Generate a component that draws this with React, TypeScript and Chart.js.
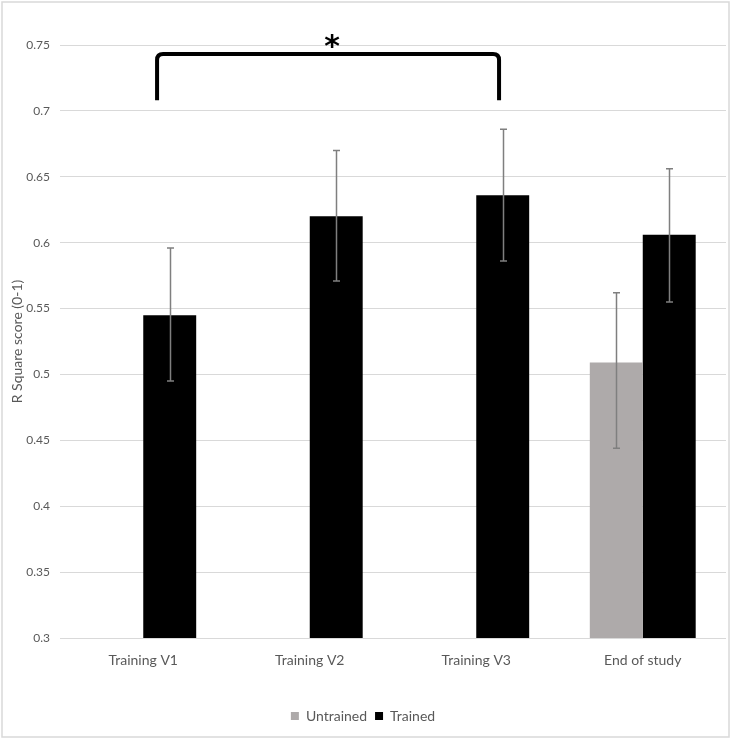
import React, { useEffect, useRef } from "react";
import { Chart, registerables } from "chart.js";

Chart.register(...registerables);

const categories = ["Training V1", "Training V2", "Training V3", "End of study"];
const seriesNames = ["Untrained", "Trained"];
const untrainedValues: (number | null)[] = [null, null, null, 0.509];
const untrainedUpper: (number | null)[] = [null, null, null, 0.562];
const untrainedLower: (number | null)[] = [null, null, null, 0.444];
const trainedValues: number[] = [0.545, 0.62, 0.636, 0.606];
const trainedUpper: number[] = [0.596, 0.67, 0.686, 0.656];
const trainedLower: number[] = [0.495, 0.571, 0.586, 0.555];
const yTickLabels: Record<string, string> = {
  "0.3": "0.3", "0.35": "0.35", "0.4": "0.4", "0.45": "0.45", "0.5": "0.5",
  "0.55": "0.55", "0.6": "0.6", "0.65": "0.65", "0.7": "0.7", "0.75": "0.75",
};
const yMin = 0.3;
const yMax = 0.75;
const yStep = 0.05;
const yTitle = "R Square score (0-1)";
// significance bracket between Training V1 and Training V3 (category index positions)
const bracketFrom = 0.083;
const bracketTo = 2.137;
const bracketTop = 0.7432;
const bracketBottom = 0.708;
const bracketLabel = "*";

const FONT = "Lato, 'Open Sans', sans-serif";
const TEXT = "#595959";

const errorBounds = [
  { upper: untrainedUpper, lower: untrainedLower },
  { upper: trainedUpper, lower: trainedLower },
];

const decorPlugin = {
  id: "decor",
  beforeDraw(chart: any) {
    const { ctx, width, height } = chart;
    ctx.save();
    ctx.fillStyle = "#ffffff";
    ctx.fillRect(0, 0, width, height);
    ctx.strokeStyle = "#d9d9d9";
    ctx.lineWidth = 1.5;
    ctx.strokeRect(2, 2, 727, 735);
    ctx.restore();
  },
  afterDatasetsDraw(chart: any) {
    const { ctx } = chart;
    const y = chart.scales.y;
    const x = chart.scales.x;
    ctx.save();
    ctx.strokeStyle = "#7f7f7f";
    ctx.lineWidth = 1.5;
    errorBounds.forEach((eb, di) => {
      const meta = chart.getDatasetMeta(di);
      meta.data.forEach((bar: any, i: number) => {
        const up = eb.upper[i];
        const lo = eb.lower[i];
        if (up == null || lo == null) return;
        const cx = Math.round(bar.x) + 0.5;
        const yu = y.getPixelForValue(up);
        const yl = y.getPixelForValue(lo);
        ctx.beginPath();
        ctx.moveTo(cx, yu);
        ctx.lineTo(cx, yl);
        ctx.moveTo(cx - 3.5, yu);
        ctx.lineTo(cx + 3.5, yu);
        ctx.moveTo(cx - 3.5, yl);
        ctx.lineTo(cx + 3.5, yl);
        ctx.stroke();
      });
    });
    // bracket
    const l = x.getPixelForValue(bracketFrom);
    const r = x.getPixelForValue(bracketTo);
    const t = y.getPixelForValue(bracketTop);
    const b = y.getPixelForValue(bracketBottom);
    const rad = 6;
    ctx.strokeStyle = "#000000";
    ctx.lineWidth = 4;
    ctx.lineJoin = "round";
    ctx.beginPath();
    ctx.moveTo(l, b);
    ctx.lineTo(l, t + rad);
    ctx.quadraticCurveTo(l, t, l + rad, t);
    ctx.lineTo(r - rad, t);
    ctx.quadraticCurveTo(r, t, r, t + rad);
    ctx.lineTo(r, b);
    ctx.stroke();
    ctx.fillStyle = "#000000";
    ctx.font = "bold 30px 'DejaVu Sans', sans-serif";
    ctx.textAlign = "center";
    ctx.textBaseline = "alphabetic";
    ctx.fillText(bracketLabel, (l + r) / 2 + 4, t + 2);
    ctx.restore();
  },
};

export default function App() {
  const ref = useRef<HTMLCanvasElement | null>(null);
  useEffect(() => {
    document.body.style.margin = "0";
    const canvas = ref.current!;
    const chart = new Chart(canvas, {
      type: "bar",
      data: {
        labels: categories,
        datasets: [
          {
            label: seriesNames[0],
            data: untrainedValues,
            backgroundColor: "#aeaaaa",
            barPercentage: 1,
            categoryPercentage: 0.636,
          },
          {
            label: seriesNames[1],
            data: trainedValues,
            backgroundColor: "#000000",
            barPercentage: 1,
            categoryPercentage: 0.636,
          },
        ],
      },
      options: {
        responsive: false,
        animation: false,
        layout: { padding: { left: 0, right: 7, top: 45, bottom: 8 } },
        plugins: {
          legend: {
            position: "bottom",
            labels: {
              boxWidth: 8,
              boxHeight: 8,
              padding: 8,
              color: TEXT,
              font: { family: FONT, size: 14 },
            },
          },
          tooltip: { enabled: false },
        },
        scales: {
          x: {
            grid: { display: false },
            border: { display: false },
            ticks: { color: TEXT, font: { family: FONT, size: 14 }, padding: 6 },
            afterFit(scale: any) {
              scale.height = 63;
            },
          },
          y: {
            min: yMin,
            max: yMax,
            grid: { color: "#d9d9d9", drawTicks: false, lineWidth: 1 },
            border: { display: false },
            ticks: {
              stepSize: yStep,
              color: TEXT,
              font: { family: FONT, size: 12 },
              padding: 10,
              callback: (v: any) => yTickLabels[String(Math.round(Number(v) * 100) / 100)] ?? "",
            },
            title: {
              display: true,
              text: yTitle,
              color: TEXT,
              font: { family: FONT, size: 14 },
              padding: { top: 9, bottom: 0 },
            },
            afterFit(scale: any) {
              scale.width = 60;
            },
          },
        },
      },
      plugins: [decorPlugin],
    });
    return () => chart.destroy();
  }, []);
  return (
    <div style={{ width: 733, height: 741 }}>
      <canvas ref={ref} width={733} height={741} style={{ display: "block" }} />
    </div>
  );
}
